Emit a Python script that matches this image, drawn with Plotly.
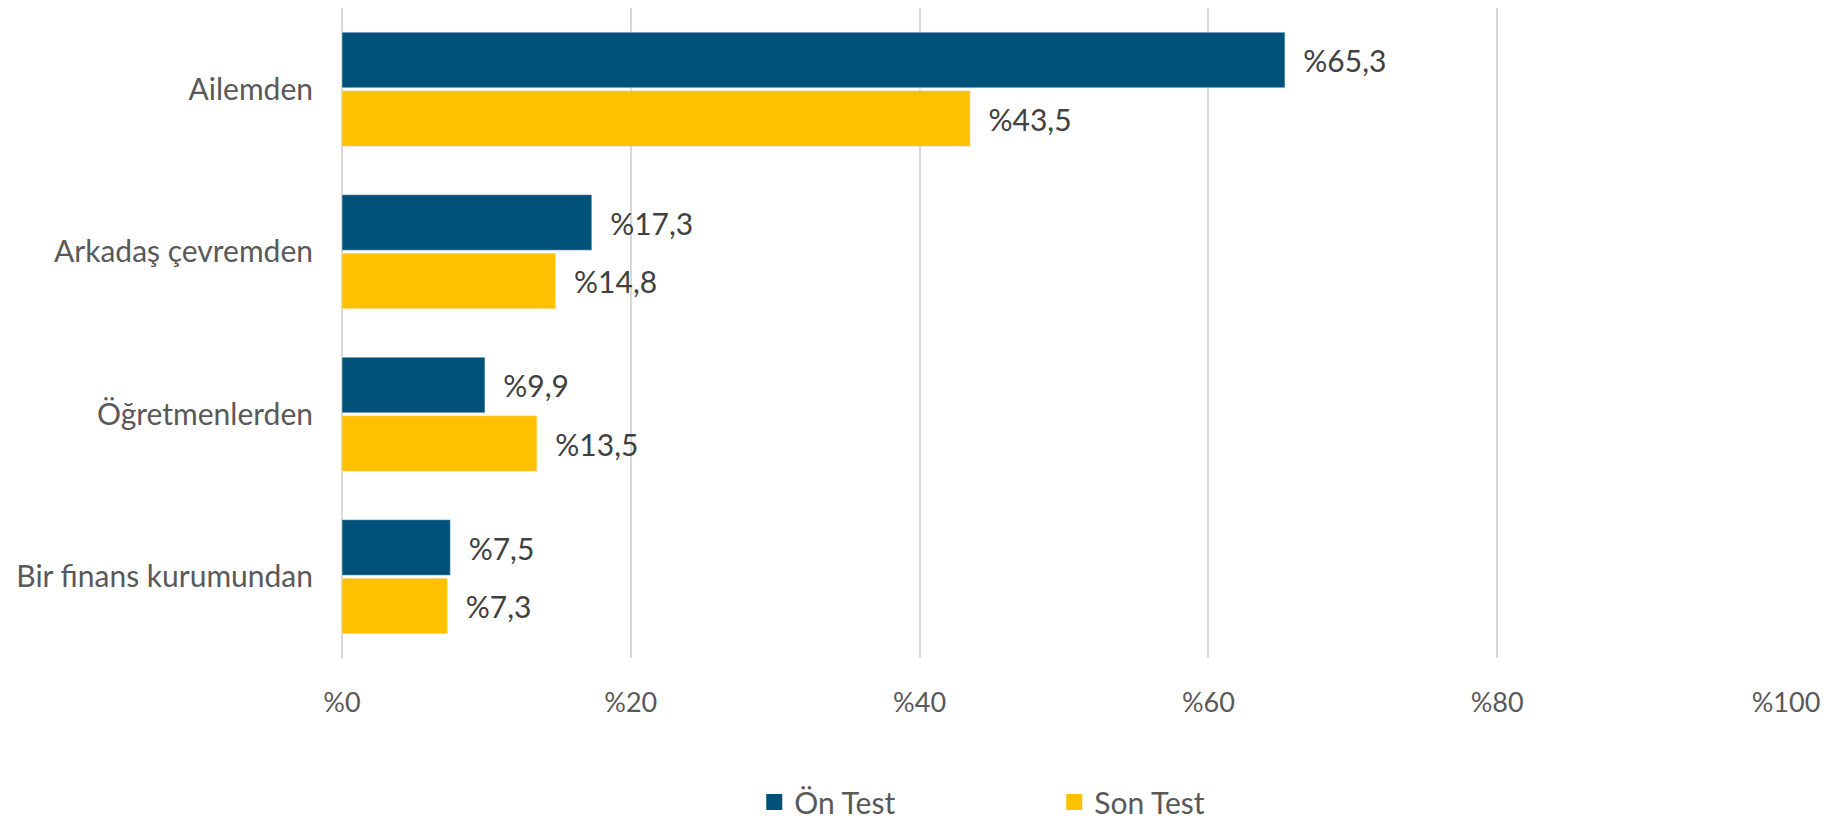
import plotly.graph_objects as go

categories = ["Ailemden", "Arkadaş çevremden", "Öğretmenlerden", "Bir finans kurumundan"]
on_test = [65.3, 17.3, 9.9, 7.5]
son_test = [43.5, 14.8, 13.5, 7.3]
x_ticks = [0, 20, 40, 60, 80, 100]

BLUE = "#00517A"
YELLOW = "#FFC000"


def pct_label(v):
    return "%" + f"{v:.1f}".replace(".", ",")


fig = go.Figure()
for name, vals, col in [("Ön Test", on_test, BLUE), ("Son Test", son_test, YELLOW)]:
    fig.add_trace(go.Bar(
        y=categories, x=vals, orientation="h", name=name,
        marker_color=col, showlegend=False,
        text=["  " + pct_label(v) for v in vals], textposition="outside",
        textfont=dict(size=30, color="#404040"), cliponaxis=False,
    ))
    # legend-only entry with a bigger square swatch
    fig.add_trace(go.Scatter(
        x=[None], y=[None], mode="markers", name=name,
        marker=dict(symbol="square", size=18, color=col),
    ))

# page body has an 8px default margin, margins below compensate for it
fig.update_layout(
    width=1841, height=820,
    margin=dict(l=334, r=63, t=0, b=159),
    barmode="group", bargap=0.28, bargroupgap=0.05,
    plot_bgcolor="white", paper_bgcolor="white",
    font=dict(family="Lato, Carlito, sans-serif", size=30, color="#595959"),
    legend=dict(orientation="h", x=0.2855, xanchor="left", y=-0.222, yanchor="middle",
                entrywidth=255, font=dict(size=30, color="#595959"),
                itemwidth=30),
)
fig.update_xaxes(
    range=[0, 100], tickvals=x_ticks, ticktext=["%" + str(t) for t in x_ticks],
    showgrid=True, gridcolor="#D9D9D9", gridwidth=1.5,
    zeroline=True, zerolinecolor="#D9D9D9", zerolinewidth=2,
    ticks="", ticklabelstandoff=26, tickfont=dict(size=27),
    automargin=False,
)
fig.update_yaxes(
    autorange="reversed", showgrid=False, ticks="", ticklabelstandoff=28,
    automargin=False,
)

fig.write_html("out.html", config={"displayModeBar": False})
